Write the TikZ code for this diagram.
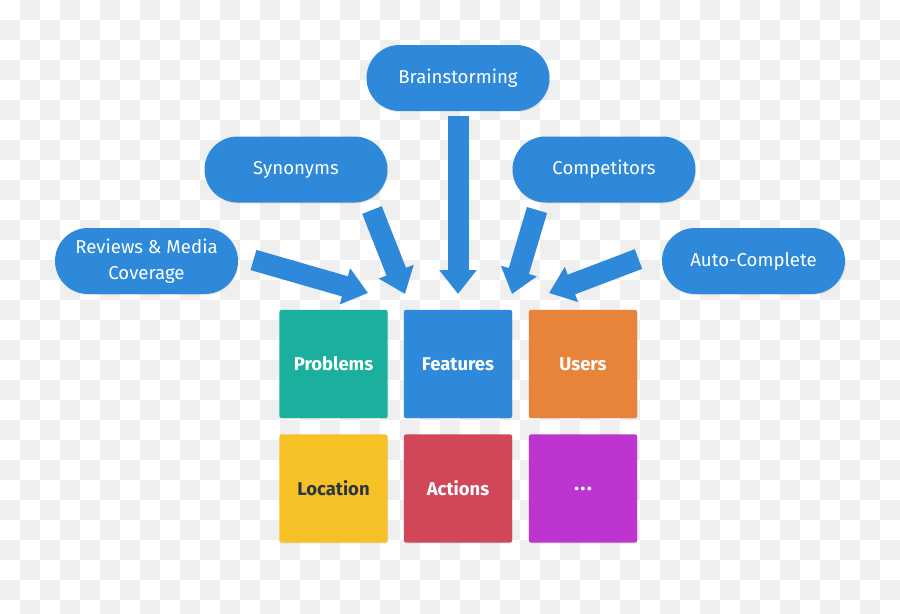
\documentclass[tikz,border=0pt]{standalone}
\usepackage{fontspec}
\setmainfont{Fira Sans}
\usepackage{tikz}
\usetikzlibrary{arrows.meta,shadows}

\definecolor{pillblue}{HTML}{2E89DA}
\definecolor{chk}{HTML}{EFEFEF}
\definecolor{probteal}{HTML}{1BAF9D}
\definecolor{userorange}{HTML}{E8843A}
\definecolor{locyellow}{HTML}{F6C126}
\definecolor{locink}{HTML}{2B3543}
\definecolor{actred}{HTML}{D2465A}
\definecolor{morepurple}{HTML}{BE34D0}

\begin{document}
\begin{tikzpicture}[x=0.02cm,y=-0.02cm,line join=miter,
  pill/.style={fill=pillblue,text=white,rounded corners=0.66cm,
    minimum width=3.66cm,minimum height=1.32cm,align=center,
    font=\fontsize{10.6}{14.5}\selectfont,
    drop shadow={opacity=0.15,shadow xshift=0.4pt,shadow yshift=-0.6pt}},
  tile/.style={rounded corners=1.5pt,minimum width=2.17cm,minimum height=2.17cm,
    text=white,font=\fontsize{10.5}{12}\selectfont\bfseries,
    drop shadow={opacity=0.12,shadow xshift=0.3pt,shadow yshift=-0.5pt}},
  bigarrow/.style={draw=pillblue,line width=0.42cm,
    -{Triangle[width=0.72cm,length=0.48cm]}}]
  \useasboundingbox (0,0) rectangle (900,613);
  % checkered backdrop
  \begin{scope}
    \clip (0,0) rectangle (900,613);
    \foreach \i in {0,...,44}{
      \foreach \j in {0,...,30}{
        \pgfmathtruncatemacro\k{mod(\i+\j,2)}
        \ifnum\k=1 \fill[chk] (20*\i,20*\j) rectangle ++(20,20); \fi
      }
    }
  \end{scope}
  % sources
  \node[pill] (brain) at (458,78) {Brainstorming};
  \node[pill] (syn) at (296,169.5) {Synonyms};
  \node[pill] (comp) at (604,169.5) {Competitors};
  \node[pill] (rev) at (146.5,261) {Reviews \& Media\\Coverage};
  \node[pill] (auto) at (753.5,261) {Auto-Complete};
  % categories
  \node[tile,fill=probteal] (prob) at (333.5,364) {Problems};
  \node[tile,fill=pillblue] (feat) at (458,364) {Features};
  \node[tile,fill=userorange] (user) at (583,364) {Users};
  \node[tile,fill=locyellow,text=locink] (loc) at (333.5,488.5) {Location};
  \node[tile,fill=actred] (act) at (458,488.5) {Actions};
  \node[tile,fill=morepurple,font=\fontsize{12}{12}\selectfont\bfseries] (more) at (583,488.5) {.\kern0.8pt.\kern0.8pt.};
  % arrow ends
  \coordinate (brainT) at (458,116);
  \coordinate (brainH) at (458,294);
  \coordinate (synT) at (372,210);
  \coordinate (synH) at (405,294);
  \coordinate (compT) at (537,210);
  \coordinate (compH) at (512,294);
  \coordinate (revT) at (253.5,260);
  \coordinate (revH) at (368,293);
  \coordinate (autoT) at (638.5,259);
  \coordinate (autoH) at (549,293);
  \draw[bigarrow] (brainT) -- (brainH);
  \draw[bigarrow] (synT) -- (synH);
  \draw[bigarrow] (compT) -- (compH);
  \draw[bigarrow] (revT) -- (revH);
  \draw[bigarrow] (autoT) -- (autoH);
\end{tikzpicture}
\end{document}
